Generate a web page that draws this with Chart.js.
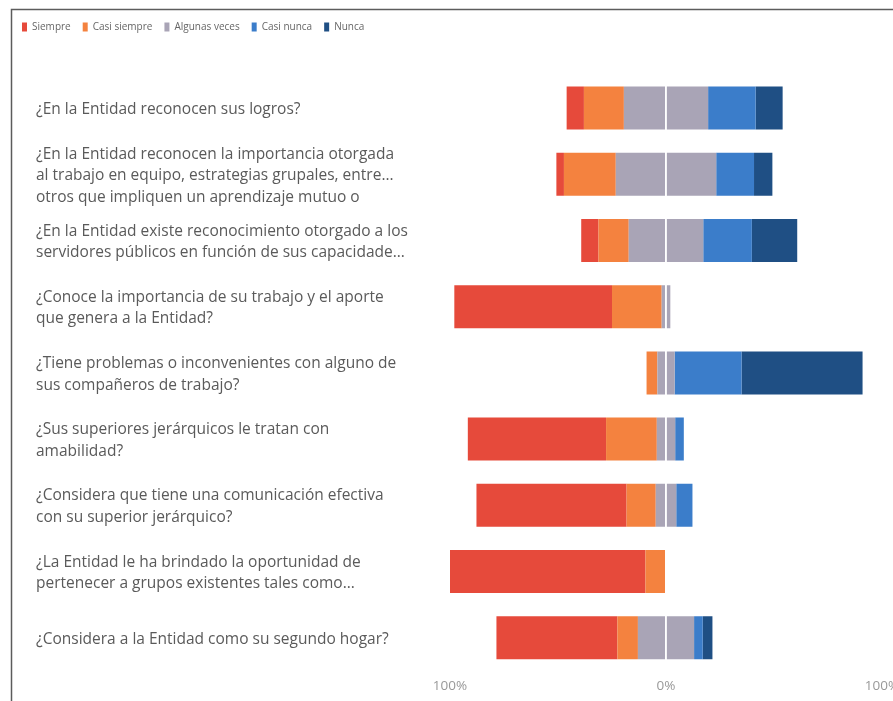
<!DOCTYPE html>
<html lang="es">
<head>
<meta charset="utf-8">
<title>Percepción de reconocimiento y clima laboral</title>
<script src="https://cdn.jsdelivr.net/npm/chart.js@4.4.1/dist/chart.umd.min.js"></script>
<style>
  html, body { margin: 0; padding: 0; background: #fff; }
  #wrap { position: relative; width: 893px; height: 701px; }
</style>
</head>
<body>
<div id="wrap"><canvas id="likert-chart"></canvas></div>
<script>
// preguntas (cada una partida en líneas como en el original)
const categories = [
  ["¿En la Entidad reconocen sus logros?"],
  ["¿En la Entidad reconocen la importancia otorgada", "al trabajo en equipo, estrategias grupales, entre...", "otros que impliquen un aprendizaje mutuo o"],
  ["¿En la Entidad existe reconocimiento otorgado a los", "servidores públicos en función de sus capacidade..."],
  ["¿Conoce la importancia de su trabajo y el aporte", "que genera a la Entidad?"],
  ["¿Tiene problemas o inconvenientes con alguno de", "sus compañeros de trabajo?"],
  ["¿Sus superiores jerárquicos le tratan con", "amabilidad?"],
  ["¿Considera que tiene una comunicación efectiva", "con su superior jerárquico?"],
  ["¿La Entidad le ha brindado la oportunidad de", "pertenecer a grupos existentes tales como..."],
  ["¿Considera a la Entidad como su segundo hogar?"],
];

// porcentajes por respuesta
const siempre      = [8, 3.5, 8, 73, 0, 64, 69.5, 90.5, 56];
const casiSiempre  = [18.5, 24, 14, 23, 5, 23.5, 13.5, 9.5, 9.5];
const algunasVeces = [39, 46.5, 34.5, 4, 8, 8.5, 9.5, 0, 26];
const casiNunca    = [22, 17.5, 22.5, 0, 31, 4, 7.5, 0, 4];
const nunca        = [12.5, 8.5, 21, 0, 56, 0, 0, 0, 4.5];

const xTicks = [-100, 0, 100];
const tickLabels = ["100%", "0%", "100%"];

const COLORS = {
  siempre: "#e64a3b",
  casiSiempre: "#f4823f",
  algunasVeces: "#a9a4b6",
  casiNunca: "#3b7dca",
  nunca: "#1f4f84",
};

const LABEL_X = 36;
const LINE_H = 21.5;

Chart.defaults.font.family = "'Open Sans', 'DejaVu Sans', sans-serif";

// "Algunas veces" se divide en dos mitades alrededor del 0
const datasets = [
  { label: "Algunas veces", data: algunasVeces.map((v) => -v / 2), backgroundColor: COLORS.algunasVeces, rank: 2 },
  { label: "Casi siempre", data: casiSiempre.map((v) => -v), backgroundColor: COLORS.casiSiempre, rank: 1 },
  { label: "Siempre", data: siempre.map((v) => -v), backgroundColor: COLORS.siempre, rank: 0 },
  { label: "Algunas veces", data: algunasVeces.map((v) => v / 2), backgroundColor: COLORS.algunasVeces, rank: 2, inLegend: false },
  { label: "Casi nunca", data: casiNunca, backgroundColor: COLORS.casiNunca, rank: 3 },
  { label: "Nunca", data: nunca, backgroundColor: COLORS.nunca, rank: 4 },
];

/** marco del recuadro y fondo blanco */
const frame = {
  id: "frame",
  beforeDraw(chart) {
    const { ctx, width, height } = chart;
    ctx.save();
    ctx.fillStyle = "#fff";
    ctx.fillRect(0, 0, width, height);
    ctx.strokeStyle = "#5c5c5c";
    ctx.lineWidth = 1.5;
    ctx.beginPath();
    ctx.moveTo(11.5, height);
    ctx.lineTo(11.5, 9.5);
    ctx.lineTo(width, 9.5);
    ctx.stroke();
    ctx.restore();
  },
};

/** espacio extra debajo de la leyenda */
const legendSpacer = {
  id: "legendSpacer",
  beforeInit(chart) {
    const fit = chart.legend.fit;
    chart.legend.fit = function () {
      fit.call(this);
      this.height += 33;
    };
  },
};

/** textos de las preguntas alineados a la izquierda */
const questionLabels = {
  id: "questionLabels",
  afterDraw(chart) {
    const { ctx } = chart;
    const y = chart.scales.y;
    ctx.save();
    ctx.font = "15.5px 'Open Sans', 'DejaVu Sans', sans-serif";
    ctx.fillStyle = "#5a5a5a";
    ctx.textAlign = "left";
    ctx.textBaseline = "middle";
    chart.data.labels.forEach((lines, i) => {
      const yc = y.getPixelForValue(i) + 1.5;
      const top = yc - ((lines.length - 1) * LINE_H) / 2;
      lines.forEach((t, j) => ctx.fillText(t, LABEL_X, top + j * LINE_H));
    });
    ctx.restore();
  },
};

new Chart(document.getElementById("likert-chart"), {
  type: "bar",
  data: { labels: categories, datasets },
  options: {
    indexAxis: "y",
    responsive: true,
    maintainAspectRatio: false,
    animation: false,
    categoryPercentage: 0.65,
    barPercentage: 1,
    layout: { padding: { left: 10, top: 10, right: 11, bottom: 0 } },
    plugins: {
      tooltip: { enabled: false },
      legend: {
        position: "top",
        align: "start",
        labels: {
          boxWidth: 5,
          boxHeight: 9,
          padding: 12,
          color: "#666",
          font: { size: 10 },
          filter: (item, data) => data.datasets[item.datasetIndex].inLegend !== false,
          sort: (a, b, data) => data.datasets[a.datasetIndex].rank - data.datasets[b.datasetIndex].rank,
        },
      },
    },
    scales: {
      x: {
        stacked: true,
        min: -100,
        max: 100,
        afterBuildTicks: (axis) => {
          axis.ticks = xTicks.map((v) => ({ value: v }));
        },
        // la etiqueta derecha queda cortada por el borde, como en el original
        afterFit: (axis) => {
          axis.paddingLeft = 0;
          axis.paddingRight = 0;
        },
        ticks: {
          callback: (v, i) => tickLabels[i],
          color: "#999",
          font: { size: 13.5 },
          padding: 7,
          maxRotation: 0,
        },
        grid: {
          z: 1,
          drawTicks: false,
          lineWidth: 1.5,
          color: (c) => (c.tick && c.tick.value === 0 ? "#ffffff" : "rgba(0,0,0,0)"),
        },
        border: { display: false },
      },
      y: {
        stacked: true,
        ticks: { display: false },
        grid: { display: false },
        border: { display: false },
        afterFit: (scale) => {
          scale.width = 440;
        },
      },
    },
  },
  plugins: [frame, legendSpacer, questionLabels],
});
</script>
</body>
</html>
